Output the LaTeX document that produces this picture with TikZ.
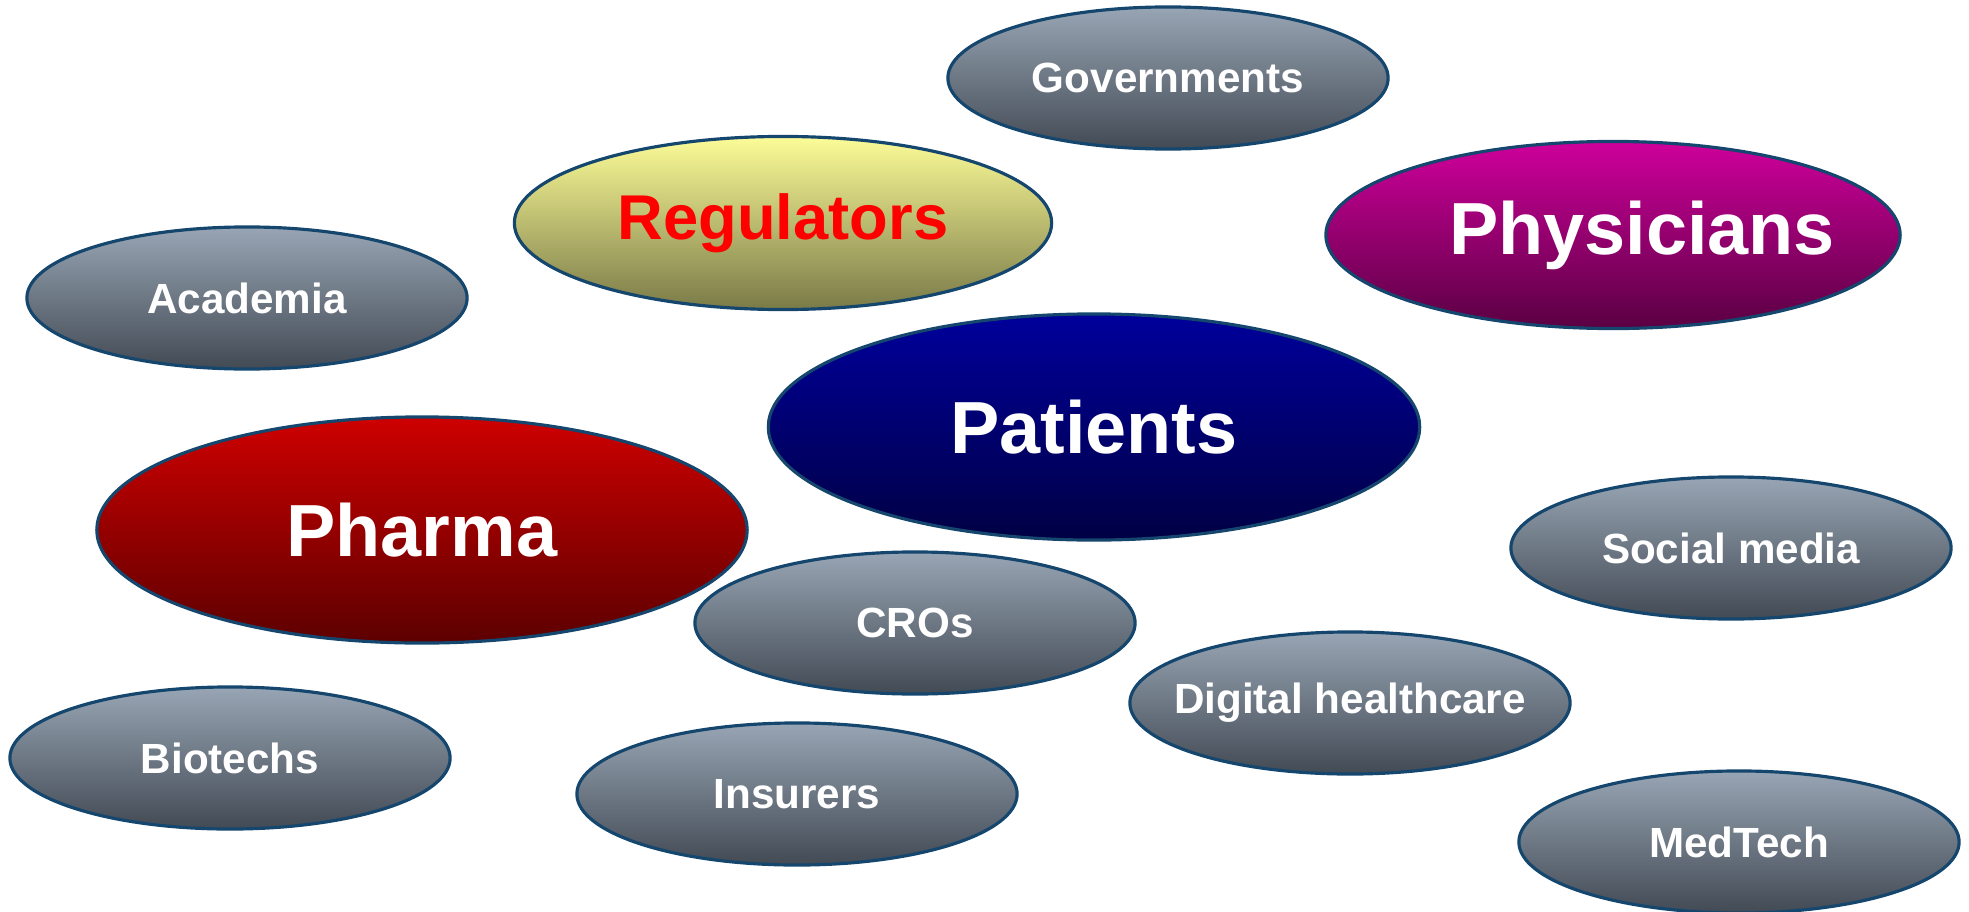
\documentclass[tikz,border=0pt]{standalone}
\usepackage{fontspec}
\setmainfont{Liberation Sans}
\usetikzlibrary{shapes,calc}
\definecolor{bubbleline}{RGB}{20,70,110}
\definecolor{greytop}{RGB}{152,165,180}
\definecolor{greybot}{RGB}{66,74,84}
\definecolor{regtop}{RGB}{252,252,152}
\definecolor{regbot}{RGB}{122,122,72}
\definecolor{phystop}{RGB}{206,0,155}
\definecolor{physbot}{RGB}{90,0,66}
\definecolor{pattop}{RGB}{0,0,155}
\definecolor{patbot}{RGB}{0,0,68}
\definecolor{phartop}{RGB}{206,0,0}
\definecolor{pharbot}{RGB}{92,0,0}
\tikzstyle{bubble}=[ellipse,draw=bubbleline,line width=0.9pt,inner sep=0pt,text=white]
\tikzstyle{greytext}=[text=white,font=\bfseries\fontsize{12}{14}\selectfont]
\tikzstyle{greybubble}=[bubble,top color=greytop,bottom color=greybot,minimum width=4.4cm,minimum height=1.42cm]
\tikzstyle{bigbubble}=[bubble,minimum width=6.5cm,minimum height=2.26cm,font=\bfseries\fontsize{21}{25}\selectfont]
\tikzstyle{biglabel}=[text=white,font=\bfseries\fontsize{21}{25}\selectfont]

\begin{document}
\begin{tikzpicture}[x=0.01cm,y=-0.01cm]

  \useasboundingbox (0,0) rectangle (1969,912);

  % grey stakeholders
  \foreach \pos/\name/\txt in {{(1168,78)/gov/Governments}, {(247,298)/acad/Academia}, {(1731,548)/social/Social media}, {(915,623)/cros/CROs}, {(1350,703)/digital/Digital healthcare}, {(230,758)/biotech/Biotechs}, {(797,794)/insurer/Insurers}, {(1739,842)/medtech/MedTech}}
      \node[greybubble,label={[greytext]center:\txt}] (\name) at \pos {};

  % main stakeholders
  \node[bubble,top color=regtop,bottom color=regbot,minimum width=5.37cm,minimum height=1.73cm,text=red,font=\bfseries\fontsize{18}{22}\selectfont] (reg) at (783,223) {Regulators};
  \node[bubble,top color=phystop,bottom color=physbot,minimum width=5.74cm,minimum height=1.87cm] (phys) at (1613,235) {};
  \node[biglabel] (physlabel) at ($(phys)+(29,0)$) {Physicians};
  \node[bigbubble,top color=pattop,bottom color=patbot,minimum width=6.51cm] (pat) at (1094,427) {Patients};
  \node[bigbubble,top color=phartop,bottom color=pharbot] (phar) at (422,530) {Pharma};

\end{tikzpicture}
\end{document}
